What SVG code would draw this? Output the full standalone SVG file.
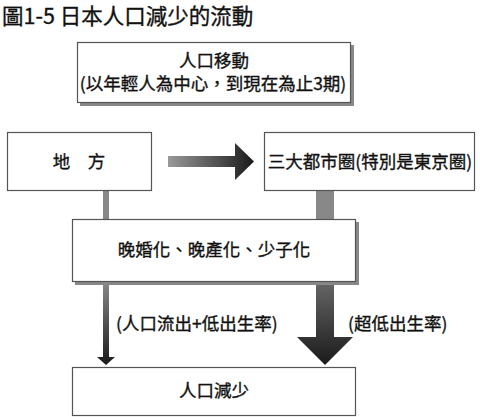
<svg xmlns="http://www.w3.org/2000/svg" width="480" height="417" viewBox="0 0 480 417" xml:lang="zh-TW">
<style>
text{font-family:"Noto Sans CJK TC","Noto Sans CJK SC",sans-serif;fill:#111;stroke:#111;stroke-width:0.35;}
.t{font-size:17.5px;text-anchor:middle;}
.l{font-size:17.5px;}
.box{fill:#fff;stroke:#555;stroke-width:1.2;}
.sh{fill:#888;}
</style>
<defs>
<linearGradient id="gh" x1="0" y1="0" x2="1" y2="0">
<stop offset="0" stop-color="#999"/>
<stop offset="1" stop-color="#1a1a1a"/>
</linearGradient>
<linearGradient id="gv" x1="0" y1="0" x2="0" y2="1">
<stop offset="0" stop-color="#888"/>
<stop offset="1" stop-color="#1a1a1a"/>
</linearGradient>
<linearGradient id="gv2" x1="0" y1="0" x2="0" y2="1">
<stop offset="0" stop-color="#666"/>
<stop offset="1" stop-color="#1a1a1a"/>
</linearGradient>
</defs>
<text x="2" y="24" style="font-size:21.5px;">圖1-5 日本人口減少的流動</text>
<g id="connectors">
<rect x="103" y="191" width="6" height="28" fill="#888"/>
<rect x="316" y="191" width="18" height="28" fill="#888"/>
<path d="M168 156 H235 V143 L254 161.5 L235 180 V167 H168 Z" fill="url(#gh)"/>
<path d="M103 282 H109 V357 H115 L106 365 L97 357 H103 Z" fill="url(#gv)"/>
<path d="M316 282 H334 V337 H353 L325 365 L297 337 H316 Z" fill="url(#gv2)"/>
<text class="l" x="116" y="329.5">(人口流出+低出生率)</text>
<text class="l" x="348" y="329.5">(超低出生率)</text>
</g>
<g id="move">
<rect class="sh" x="80" y="45" width="274" height="61"/>
<rect class="box" x="77.5" y="42.5" width="273" height="60"/>
<text class="t" x="214" y="66.5">人口移動</text>
<text class="t" x="213" y="90">(以年輕人為中心，到現在為止3期)</text>
</g>
<g id="local">
<rect class="box" x="7.5" y="132.5" width="144" height="58"/>
<text class="t" x="79" y="168">地　方</text>
</g>
<g id="metro">
<rect class="box" x="264.5" y="132.5" width="210" height="58"/>
<text class="t" x="370" y="168">三大都市圈(特別是東京圈)</text>
</g>
<g id="late">
<rect class="sh" x="75" y="222" width="284" height="63"/>
<rect class="box" x="72.5" y="219.5" width="283" height="62"/>
<text class="t" x="214" y="255.5">晚婚化、晚產化、少子化</text>
</g>
<g id="decline">
<rect class="box" x="72.5" y="367.5" width="283" height="48"/>
<text class="t" x="214" y="396.5">人口減少</text>
</g>
</svg>
